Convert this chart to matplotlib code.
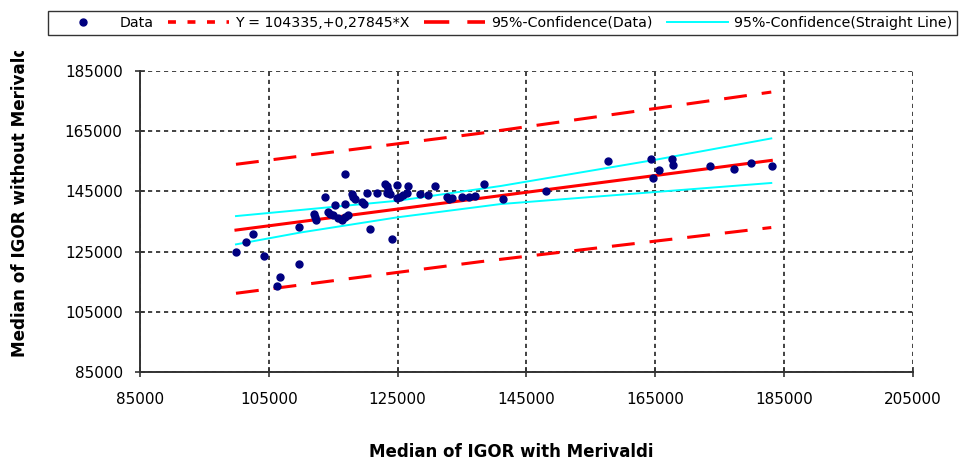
import matplotlib
matplotlib.use("Agg")
import matplotlib.pyplot as plt
from matplotlib.lines import Line2D
from matplotlib.transforms import Bbox

# ---- data ----
data_x = [99900, 101450, 102600, 104300, 106300, 106700, 109700, 109700, 111950, 112150,
          112350, 113750, 114200, 114500, 114900, 115300, 115800, 116300, 116800, 117300,
          116850, 116900, 117850, 118100, 118400, 119400, 119700, 120200, 120700, 121800,
          123050, 123300, 123550, 123400, 123800, 124100, 124850, 124850, 125400, 125900,
          126400, 126650, 128400, 129750, 130800, 132600, 132900, 133400, 134950, 136000,
          137000, 138450, 141300, 148100, 157700, 164300, 164600, 165500, 167550, 167800,
          173500, 177250, 179800, 183100]
data_y = [124800, 128200, 130850, 123600, 113700, 116700, 120800, 133200, 137500, 136500,
          135500, 143000, 138250, 137600, 137000, 140500, 136050, 135500, 136600, 137200,
          140700, 150800, 144150, 143200, 142400, 141600, 140700, 144600, 132500, 144600,
          147500, 146700, 145600, 144600, 144100, 129300, 147100, 142700, 143300, 143900,
          144400, 146900, 144100, 143800, 146900, 143000, 142400, 142700, 143000, 143000,
          143500, 147500, 142400, 145100, 155100, 155700, 149600, 152100, 155700, 153800,
          153400, 152300, 154500, 153400]

fit_x = [99900, 183000]
fit_y = [132150, 155290]

pred_x = [99900, 137800, 183000]
pred_upper = [154000, 164300, 178000]
pred_lower = [111150, 121640, 133000]

conf_x = [99900, 109800, 125000, 141000, 165000, 183000]
conf_upper = [136800, 138800, 141900, 146800, 155500, 162600]
conf_lower = [127400, 131300, 136400, 140800, 144800, 147800]

x_ticks = [85000, 105000, 125000, 145000, 165000, 185000, 205000]
y_ticks = [85000, 105000, 125000, 145000, 165000, 185000]

labels = ["Data", "Y = 104335,+0,27845*X", "95%-Confidence(Data)",
          "95%-Confidence(Straight Line)"]

# ---- figure ----
W, H = 961, 465
fig = plt.figure(figsize=(W / 100, H / 100), dpi=100)
ax = fig.add_axes([140 / W, 1 - 372 / H, (913 - 140) / W, (372 - 71) / H])

red = "#FF0000"
cyan = "#00FFFF"
navy = "#000080"

ax.plot(pred_x, pred_upper, color=red, lw=2.2, ls=(0, (7.5, 4.9)), zorder=3)
ax.plot(pred_x, pred_lower, color=red, lw=2.2, ls=(0, (7.5, 4.9)), zorder=3)
ax.plot(conf_x, conf_upper, color=cyan, lw=1.4, zorder=3)
ax.plot(conf_x, conf_lower, color=cyan, lw=1.4, zorder=3)
ax.plot(fit_x, fit_y, color=red, lw=2.2, zorder=3)
ax.plot(data_x, data_y, ls="none", marker="o", ms=5, color=navy, zorder=4)

ax.set_xlim(85000, 205000)
ax.set_ylim(85000, 185000)
ax.set_xticks(x_ticks)
ax.set_yticks(y_ticks)
ax.set_xticklabels([str(v) for v in x_ticks])
ax.set_yticklabels([str(v) for v in y_ticks])

ax.grid(True, color="#222222", lw=1.2, ls=(0, (2.5, 2.3)))
ax.set_axisbelow(True)
for s in ("top", "right"):
    ax.spines[s].set_visible(False)
for s in ("left", "bottom"):
    ax.spines[s].set_color("#333333")
    ax.spines[s].set_linewidth(1.4)
ax.tick_params(direction="inout", length=7, width=1.2, color="#333333",
               labelsize=11, pad=9)
ax.tick_params(axis="x", pad=11)
for lab in ax.get_xticklabels() + ax.get_yticklabels():
    lab.set_family("DejaVu Sans")

fig.text(511 / W, 1 - 452 / H, "Median of IGOR with Merivaldi", ha="center",
         va="center", fontsize=12, fontweight="bold", family="DejaVu Sans")
yl = fig.text(20 / W, 1 - 197.5 / H, "Median of IGOR without Merivaldi", ha="center",
              va="center", rotation=90, fontsize=12.1, fontweight="bold",
              family="DejaVu Sans")
yl.set_clip_box(Bbox([[0, 0], [W, H - 51]]))
yl.set_clip_on(True)

handles = [
    Line2D([], [], ls="none", marker="o", ms=5, color=navy),
    Line2D([], [], color=red, lw=2.6, ls=(0, (2.2, 3.2))),
    Line2D([], [], color=red, lw=2.6, ls=(0, (7, 5))),
    Line2D([], [], color=cyan, lw=1.4),
]
leg = fig.legend(handles, labels, loc="upper left", bbox_to_anchor=(48 / W, 1 - 11 / H),
                 ncol=4, frameon=True, fancybox=False, edgecolor="black",
                 handlelength=4.3, handletextpad=0.4, columnspacing=1.05,
                 borderaxespad=0, borderpad=0.35,
                 prop={"family": "DejaVu Sans", "size": 10.2})
leg.get_frame().set_linewidth(1.0)

fig.savefig("out.png", dpi=100)
